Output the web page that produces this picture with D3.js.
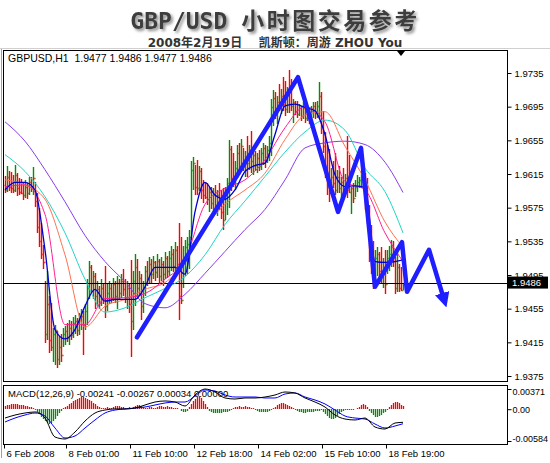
<!DOCTYPE html>
<html><head><meta charset="utf-8">
<script src="https://cdn.jsdelivr.net/npm/d3@7"></script>
<style>html,body{margin:0;padding:0;background:#fff;}svg{display:block;}</style>
</head><body>
<svg id="c" width="550" height="463"></svg>
<script>
// ---------- DATA ----------
const symbolLabel = "GBPUSD,H1  1.9477 1.9486 1.9477 1.9486";
const macdLabel = "MACD(12,26,9) -0.00241 -0.00267 0.00034 0.00000";
const titleLatin = "GBP/USD ";
const titleCJK = "小时图交易参考";
const subtitle = "2008年2月19日    凯斯顿：周游 ZHOU You";

const firstOpen = 1.9602;
const highs = [
1.9613,1.9624,1.9618,1.9617,1.9614,1.9626,1.9616,1.9610,1.9609,1.9605,
1.9608,1.9604,1.9612,1.9612,1.9623,1.9606,1.9592,1.9575,1.9557,1.9531,
1.9488,1.9500,1.9470,1.9462,1.9432,1.9436,1.9428,1.9422,1.9425,1.9432,
1.9435,1.9438,1.9442,1.9440,1.9445,1.9448,1.9444,1.9450,1.9455,1.9452,
1.9460,1.9490,1.9512,1.9507,1.9500,1.9497,1.9488,1.9482,1.9490,1.9486,
1.9506,1.9484,1.9488,1.9485,1.9492,1.9488,1.9494,1.9490,1.9496,1.9502,
1.9490,1.9488,1.9484,1.9513,1.9500,1.9520,1.9514,1.9500,1.9496,1.9488,
1.9506,1.9512,1.9516,1.9514,1.9518,1.9512,1.9520,1.9514,1.9516,1.9512,
1.9522,1.9518,1.9524,1.9530,1.9526,1.9534,1.9530,1.9557,1.9540,1.9530,
1.9536,1.9540,1.9548,1.9630,1.9635,1.9626,1.9632,1.9625,1.9622,1.9608,
1.9606,1.9604,1.9600,1.9600,1.9598,1.9602,1.9596,1.9604,1.9596,1.9598,
1.9600,1.9610,1.9655,1.9648,1.9640,1.9630,1.9650,1.9652,1.9656,1.9646,
1.9642,1.9660,1.9650,1.9666,1.9644,1.9642,1.9640,1.9644,1.9646,1.9652,
1.9650,1.9648,1.9660,1.9704,1.9715,1.9712,1.9708,1.9722,1.9716,1.9730,
1.9725,1.9718,1.9739,1.9728,1.9704,1.9702,1.9702,1.9698,1.9696,1.9700,
1.9698,1.9695,1.9694,1.9696,1.9700,1.9700,1.9702,1.9724,1.9712,1.9690,
1.9665,1.9650,1.9645,1.9622,1.9630,1.9640,1.9620,1.9625,1.9612,1.9622,
1.9615,1.9660,1.9638,1.9600,1.9604,1.9608,1.9614,1.9612,1.9618,1.9622,
1.9616,1.9610,1.9578,1.9555,1.9535,1.9525,1.9528,1.9522,1.9528,1.9515,
1.9525,1.9525,1.9530,1.9537,1.9535,1.9516,1.9525,1.9508,1.9505,1.9486];
const lows = [
1.9592,1.9594,1.9595,1.9593,1.9592,1.9594,1.9589,1.9590,1.9591,1.9584,
1.9586,1.9585,1.9590,1.9594,1.9590,1.9576,1.9545,1.9528,1.9514,1.9502,
1.9414,1.9418,1.9402,1.9405,1.9392,1.9388,1.9385,1.9388,1.9392,1.9410,
1.9412,1.9415,1.9412,1.9418,1.9420,1.9425,1.9422,1.9424,1.9430,1.9400,
1.9430,1.9436,1.9466,1.9474,1.9466,1.9455,1.9458,1.9455,1.9458,1.9460,
1.9444,1.9452,1.9460,1.9462,1.9464,1.9462,1.9455,1.9465,1.9468,1.9470,
1.9462,1.9455,1.9450,1.9398,1.9430,1.9458,1.9466,1.9470,1.9442,1.9450,
1.9470,1.9482,1.9484,1.9486,1.9490,1.9488,1.9492,1.9484,1.9488,1.9482,
1.9490,1.9492,1.9494,1.9500,1.9498,1.9496,1.9500,1.9442,1.9460,1.9480,
1.9494,1.9496,1.9502,1.9537,1.9596,1.9590,1.9590,1.9595,1.9585,1.9581,
1.9585,1.9578,1.9570,1.9574,1.9568,1.9570,1.9565,1.9572,1.9562,1.9548,
1.9560,1.9566,1.9575,1.9595,1.9600,1.9596,1.9610,1.9614,1.9620,1.9618,
1.9612,1.9612,1.9620,1.9616,1.9614,1.9618,1.9616,1.9618,1.9620,1.9626,
1.9622,1.9628,1.9630,1.9636,1.9672,1.9680,1.9674,1.9690,1.9686,1.9690,
1.9684,1.9688,1.9688,1.9690,1.9676,1.9685,1.9682,1.9684,1.9678,1.9680,
1.9676,1.9678,1.9674,1.9678,1.9682,1.9680,1.9682,1.9680,1.9662,1.9640,
1.9610,1.9590,1.9582,1.9592,1.9598,1.9590,1.9592,1.9592,1.9585,1.9590,
1.9592,1.9586,1.9592,1.9568,1.9580,1.9588,1.9594,1.9598,1.9598,1.9600,
1.9572,1.9556,1.9510,1.9496,1.9478,1.9488,1.9494,1.9490,1.9486,1.9480,
1.9472,1.9496,1.9500,1.9505,1.9505,1.9472,1.9475,1.9475,1.9476,1.9477];
const closes = [
1.9596,1.9612,1.9600,1.9598,1.9596,1.9614,1.9598,1.9594,1.9593,1.9590,
1.9600,1.9592,1.9605,1.9600,1.9610,1.9583,1.9552,1.9535,1.9520,1.9510,
1.9425,1.9460,1.9418,1.9410,1.9425,1.9430,1.9395,1.9410,1.9400,1.9425,
1.9428,1.9420,1.9432,1.9424,1.9438,1.9440,1.9430,1.9442,1.9446,1.9436,
1.9452,1.9480,1.9505,1.9486,1.9494,1.9470,1.9478,1.9462,1.9480,1.9466,
1.9458,1.9474,1.9480,1.9468,1.9484,1.9470,1.9486,1.9474,1.9488,1.9478,
1.9468,1.9480,1.9460,1.9440,1.9488,1.9505,1.9480,1.9492,1.9458,1.9478,
1.9500,1.9490,1.9508,1.9496,1.9510,1.9498,1.9512,1.9494,1.9508,1.9496,
1.9515,1.9500,1.9515,1.9520,1.9506,1.9525,1.9508,1.9470,1.9465,1.9515,
1.9528,1.9532,1.9540,1.9620,1.9628,1.9600,1.9598,1.9618,1.9596,1.9590,
1.9588,1.9585,1.9594,1.9580,1.9590,1.9576,1.9590,1.9580,1.9570,1.9560,
1.9592,1.9604,1.9645,1.9610,1.9605,1.9622,1.9640,1.9625,1.9648,1.9630,
1.9636,1.9628,1.9644,1.9630,1.9638,1.9626,1.9634,1.9624,1.9640,1.9646,
1.9632,1.9644,1.9652,1.9695,1.9705,1.9690,1.9700,1.9696,1.9708,1.9698,
1.9692,1.9710,1.9698,1.9696,1.9700,1.9690,1.9686,1.9694,1.9684,1.9694,
1.9682,1.9690,1.9680,1.9690,1.9696,1.9688,1.9696,1.9708,1.9672,1.9648,
1.9618,1.9600,1.9592,1.9612,1.9604,1.9596,1.9612,1.9598,1.9605,1.9596,
1.9610,1.9596,1.9594,1.9598,1.9586,1.9600,1.9606,1.9608,1.9612,1.9616,
1.9580,1.9565,1.9520,1.9505,1.9488,1.9515,1.9520,1.9500,1.9494,1.9505,
1.9484,1.9515,1.9520,1.9528,1.9512,1.9480,1.9505,1.9480,1.9477,1.9486];

// moving averages, read at every 10th bar (slow) and every 5th bar (fast)
const maIdxSlow = [0,10,20,30,40,50,60,70,80,90,100,110,120,130,140,150,160,170,180,190,199];
const maPurple = [1.9677,1.9654,1.9620,1.9582,1.9542,1.9511,1.9487,1.9461,1.9456,1.9472,1.9497,1.9523,1.9549,1.9573,1.9608,1.9646,1.9652,1.9654,1.9650,1.9629,1.9593];
const maCyan   = [1.9638,1.9618,1.9588,1.9545,1.9490,1.9451,1.9456,1.9468,1.9479,1.9493,1.9519,1.9555,1.9583,1.9612,1.9641,1.9665,1.9679,1.9667,1.9622,1.9594,1.9545];
const maOrange = [1.9608,1.9602,1.9585,1.9519,1.9433,1.9458,1.9466,1.9478,1.9486,1.9511,1.9551,1.9579,1.9596,1.9616,1.9656,1.9685,1.9689,1.9648,1.9608,1.9558,1.9528];
const maPink   = [1.9600,1.9602,1.9567,1.9436,1.9436,1.9467,1.9468,1.9473,1.9490,1.9513,1.9579,1.9598,1.9608,1.9632,1.9670,1.9695,1.9677,1.9606,1.9596,1.9545,1.9511];
const maIdxFast = [0,5,10,15,20,25,30,35,40,45,50,55,60,65,70,75,80,85,90,95,100,105,110,115,120,125,130,135,140,145,150,155,160,165,170,175,180,185,190,195,199];
const maBlue = [1.9596,1.9605,1.9605,1.9596,1.9525,1.9430,1.9419,1.9430,1.9458,1.9478,1.9464,1.9466,1.9466,1.9466,1.9481,1.9504,1.9504,1.9504,1.9496,1.9570,1.9605,1.9590,1.9585,1.9596,1.9618,1.9625,1.9628,1.9662,1.9696,1.9698,1.9694,1.9690,1.9662,1.9614,1.9600,1.9601,1.9599,1.9511,1.9510,1.9511,1.9513];

const macdMain = [-0.00162,-0.00107,-0.00070,-0.00051,-0.00162,-0.00511,-0.00547,-0.00419,-0.00217,-0.00070,-0.00015,0.00004,0.00004,0.00022,0.00077,0.00132,0.00151,0.00132,0.00059,0.00261,0.00371,0.00316,0.00206,0.00187,0.00206,0.00206,0.00224,0.00261,0.00316,0.00298,0.00206,0.00132,0.00040,-0.00107,-0.00180,-0.00198,-0.00162,-0.00327,-0.00364,-0.00254,-0.00241];
const macdSignal = [-0.00235,-0.00162,-0.00107,-0.00070,-0.00125,-0.00345,-0.00529,-0.00492,-0.00345,-0.00198,-0.00070,-0.00015,0.00004,0.00022,0.00040,0.00077,0.00114,0.00132,0.00132,0.00242,0.00353,0.00334,0.00261,0.00224,0.00224,0.00224,0.00206,0.00206,0.00279,0.00298,0.00224,0.00169,0.00096,-0.00015,-0.00125,-0.00162,-0.00180,-0.00272,-0.00345,-0.00309,-0.00267];
const osma = [
0.00055,0.00073,0.00073,0.00092,0.00092,0.00092,0.00092,0.00073,0.00073,0.00073,0.00055,0.00055,0.00037,0.00037,0.00018,
-0.00018,-0.00055,-0.00092,-0.00147,-0.00184,-0.0022,-0.00257,-0.00276,-0.00257,-0.0022,-0.00184,-0.00129,-0.00073,-0.00037,
0.00018,0.00037,0.00055,0.00092,0.0011,0.00147,0.00165,0.00184,0.00202,0.0022,0.0022,0.00202,0.00184,0.00165,0.00147,0.0011,0.00092,0.00055,0.00037,0.00018,
0.00018,0.00018,0.00037,0.00018,0.00018,0.00037,0.00055,0.00055,0.00055,0.00037,0.00037,0.00018,0.00018,0.00037,0.00018,
0.00037,0.00055,0.00073,0.00073,0.00055,0.00037,0.00018,0.00018,0.00037,0.00037,0.00018,0.00018,0.00037,0.00055,0.00055,0.00037,0.00037,0.00055,0.00037,0.00037,0.00018,0.00018,0.00018,0,
-0.00037,-0.00055,-0.00055,-0.00037,
0.00037,0.00092,0.00147,0.00184,0.0022,0.00239,0.00202,
0.00147,0.00092,0.00037,
-0.00037,-0.00055,-0.00073,-0.00073,-0.00073,-0.00073,-0.00073,-0.00055,-0.00055,-0.00055,-0.00037,-0.00018,
0.00018,0.00037,0.00037,0.00055,0.00037,0.00037,0.00055,0.00037,0.00037,0.00018,0.00018,
-0.00018,-0.00037,-0.00055,-0.00055,-0.00055,-0.00055,-0.00055,-0.00037,-0.00018,
0.00018,0.00037,0.00073,0.00092,0.0011,0.0011,0.00092,0.00073,0.00055,0.00037,0.00018,
-0.00018,-0.00037,-0.00055,-0.00055,-0.00073,-0.00073,-0.00055,-0.00055,-0.00055,-0.00055,-0.00037,-0.00037,-0.00037,-0.00018,
-0.00055,-0.00092,-0.00129,-0.00165,-0.00184,-0.00184,-0.00165,-0.00129,-0.00092,-0.00055,-0.00037,
-0.00018,-0.00018,-0.00018,-0.00018,-0.00018,0,0.00018,
0.00037,0.00073,0.00092,0.00073,0.00037,
-0.00037,-0.00073,-0.0011,-0.00147,-0.00147,-0.00129,-0.0011,-0.00073,-0.00055,-0.00018,
0.00037,0.00073,0.0011,0.00129,0.00129,0.0011,0.00073,0.00055];

// hand-drawn forecast zigzag (bar index, price)
const zigIdx = [66,146.5,166.5,178,185,198.5,201,212,219];
const zigPrice = [1.9421,1.9730,1.9570,1.9646,1.9481,1.9534,1.9475,1.9525,1.9470];

const priceTicks = [1.9375,1.9415,1.9455,1.9495,1.9535,1.9575,1.9615,1.9655,1.9695,1.9735];
const lastPrice = 1.9486;
const macdTicks = [0.00371,0,-0.00584];
const macdTickLabels = ["0.00371","0.00","-0.00584"];
const dateTickIdx = [0,31,63,95,127,159,191];
const dateLabels = ["6 Feb 2008","8 Feb 01:00","11 Feb 10:00","12 Feb 18:00","14 Feb 02:00","15 Feb 10:00","18 Feb 19:00"];

// ---------- DRAW ----------
const svg = d3.select("#c");
const FONT = "'Liberation Sans', Arial, sans-serif";
const UP = "#009000", DOWN = "#ff0000";
const defs = svg.append("defs");
const f = defs.append("filter").attr("id","sh").attr("x","-10%").attr("y","-40%").attr("width","130%").attr("height","200%");
f.append("feGaussianBlur").attr("in","SourceAlpha").attr("stdDeviation",1.6).attr("result","bl");
f.append("feOffset").attr("in","bl").attr("dx",2).attr("dy",2).attr("result","of");
f.append("feFlood").attr("flood-color","#8a8a8a").attr("result","fl");
f.append("feComposite").attr("in","fl").attr("in2","of").attr("operator","in").attr("result","shd");
const fm = f.append("feMerge"); fm.append("feMergeNode").attr("in","shd"); fm.append("feMergeNode").attr("in","SourceGraphic");

defs.append("clipPath").attr("id","mainClip").append("rect").attr("x",4).attr("y",51).attr("width",503).attr("height",330);
defs.append("clipPath").attr("id","macdClip").append("rect").attr("x",4).attr("y",386).attr("width",503).attr("height",58);
defs.append("marker").attr("id","arr").attr("viewBox","0 0 10 10").attr("refX",2).attr("refY",5)
  .attr("markerWidth",3.3).attr("markerHeight",3.3).attr("orient","auto")
  .append("path").attr("d","M0,0 L10,5 L0,10 z").attr("fill","#1e1eff");

// title
const tt = svg.append("text").attr("x",275).attr("y",29).attr("text-anchor","middle")
  .attr("font-size",23).attr("font-weight","bold").attr("fill","#3c3c3c").attr("filter","url(#sh)");
tt.append("tspan").attr("font-family","'DejaVu Sans Mono', monospace").text(titleLatin);
tt.append("tspan").attr("font-family","'Noto Sans CJK SC', sans-serif").attr("letter-spacing",2.5).text(titleCJK);
svg.append("text").attr("x",275).attr("y",47).attr("text-anchor","middle").style("white-space","pre")
  .attr("font-size",12).attr("font-weight","bold").attr("fill","#333")
  .attr("font-family","'DejaVu Sans', 'Noto Sans CJK SC', sans-serif").text(subtitle);

// frames
svg.append("line").attr("x1",0).attr("x2",550).attr("y1",48.5).attr("y2",48.5).attr("stroke","#d0d0d0");
svg.append("line").attr("x1",1.5).attr("x2",1.5).attr("y1",49).attr("y2",458).attr("stroke","#a0a0a0");
svg.append("rect").attr("x",3.5).attr("y",50.5).attr("width",504).attr("height",331).attr("fill","#fff").attr("stroke","#000");
svg.append("rect").attr("x",3.5).attr("y",385.5).attr("width",504).attr("height",59).attr("fill","#fff").attr("stroke","#000");

const x = d3.scaleLinear().domain([0,199]).range([5,403]);
const y = d3.scaleLinear().domain([1.9375,1.9735]).range([376,73]);
const yM = d3.scaleLinear().domain([-0.00584,0.00371]).range([441,389]);
const px = v => Math.round(x(v)) + 0.5;

const main = svg.append("g").attr("clip-path","url(#mainClip)");
// OHLC bars: high-low stroke plus open tick (left) and close tick (right)
const bars = highs.map((h,i)=>({i,h,l:lows[i],c:closes[i],o:i?closes[i-1]:firstOpen}));
const barG = main.append("g");
bars.forEach(d=>{
  const col = d.c>=d.o ? UP : DOWN, cx = px(d.i);
  const p = `M${cx},${Math.round(y(d.h))}V${Math.round(y(d.l))}` +
            `M${cx-1},${Math.round(y(d.o))+0.5}H${cx}` +
            `M${cx},${Math.round(y(d.c))+0.5}H${cx+1}`;
  barG.append("path").attr("d",p).attr("fill","none").style("stroke",col).style("stroke-width","1.4px");
});
// last price line
main.append("line").attr("x1",4).attr("x2",507).attr("y1",Math.round(y(lastPrice))+0.5).attr("y2",Math.round(y(lastPrice))+0.5)
  .style("stroke","#000");
// moving averages
const maLine = (idx)=>d3.line().x((d,k)=>x(idx[k])).y(d=>y(d)).curve(d3.curveMonotoneX);
[[maPurple,"#8a3cf0",1],[maCyan,"#22d3c5",1],[maOrange,"#ff7050",1],[maPink,"#ff1f8f",1]].forEach(([arr,col,w])=>{
  main.append("path").attr("d",maLine(maIdxSlow)(arr)).attr("fill","none").style("stroke",col).attr("stroke-width",w);
});
main.append("path").attr("d",maLine(maIdxFast)(maBlue)).attr("fill","none").style("stroke","#0000d0").attr("stroke-width",1.3);
// zigzag
main.append("path").attr("d",d3.line().x((d,k)=>x(zigIdx[k])).y(d=>y(d))(zigPrice))
  .attr("fill","none").style("stroke","#1e1eff").attr("stroke-width",4.5).attr("stroke-linejoin","round")
  .attr("stroke-linecap","round").attr("marker-end","url(#arr)");

// shift marker
svg.append("path").attr("d",`M${x(198)-4},51 L${x(198)+4},51 L${x(198)},56 z`).attr("fill","#000");

// legend text
svg.append("text").attr("x",8).attr("y",62).style("white-space","pre").attr("font-family",FONT).attr("font-size",10.5).text(symbolLabel);

// price axis
const gy = svg.append("g").attr("transform","translate(507.5,0)")
  .call(d3.axisRight(y).tickValues(priceTicks).tickFormat(d3.format(".4f")).tickSize(4).tickPadding(3));
gy.select(".domain").remove();
gy.attr("font-family",FONT).attr("font-size",9.5);
gy.selectAll("text").attr("fill","#000");
gy.selectAll("line").style("stroke","#000");
// last price box
const ly = y(lastPrice);
svg.append("rect").attr("x",508).attr("y",ly-6).attr("width",40).attr("height",12).attr("fill","#000");
svg.append("text").attr("x",512).attr("y",ly+3.5).attr("fill","#fff").attr("font-family",FONT).attr("font-size",9.5).text(d3.format(".4f")(lastPrice));

// MACD panel
const mg = svg.append("g").attr("clip-path","url(#macdClip)");
const z0 = Math.round(yM(0));
osma.forEach((v,i)=>{
  if (v === 0) return;
  mg.append("line").attr("x1",px(i)).attr("x2",px(i)).attr("y1",z0).attr("y2",Math.round(yM(v)))
    .style("stroke", v>0 ? "#ff0000" : "#009000").style("stroke-width","1.3px");
});
const mLine = d3.line().x((d,k)=>x(maIdxFast[k])).y(d=>yM(d)).curve(d3.curveMonotoneX);
mg.append("path").attr("d",mLine(macdSignal)).attr("fill","none").style("stroke","#0000ff").attr("stroke-width",1);
mg.append("path").attr("d",mLine(macdMain)).attr("fill","none").style("stroke","#000").attr("stroke-width",1);
svg.append("text").attr("x",8).attr("y",397).style("white-space","pre").attr("font-family",FONT).attr("font-size",9.5).text(macdLabel);

const gm = svg.append("g").attr("transform","translate(507.5,0)")
  .call(d3.axisRight(yM).tickValues(macdTicks).tickFormat((d,i)=>macdTickLabels[i]).tickSize(4).tickPadding(1));
gm.select(".domain").remove();
gm.attr("font-family",FONT).attr("font-size",9);
gm.selectAll("text").attr("fill","#000").attr("dy",(d,i)=>i===0?"0.65em":(i===2?"0.05em":"0.32em"));
gm.selectAll("line").style("stroke","#000");

// date axis
const gx = svg.append("g").attr("transform","translate(-1,444.5)")
  .call(d3.axisBottom(x).tickValues(dateTickIdx).tickFormat((d,i)=>dateLabels[i]).tickSize(4).tickPadding(2));
gx.select(".domain").remove();
gx.attr("font-family",FONT).attr("font-size",9.5);
gx.selectAll("text").attr("fill","#000").attr("text-anchor","start").attr("dx",2);
gx.selectAll("line").style("stroke","#000");
</script>
</body></html>
